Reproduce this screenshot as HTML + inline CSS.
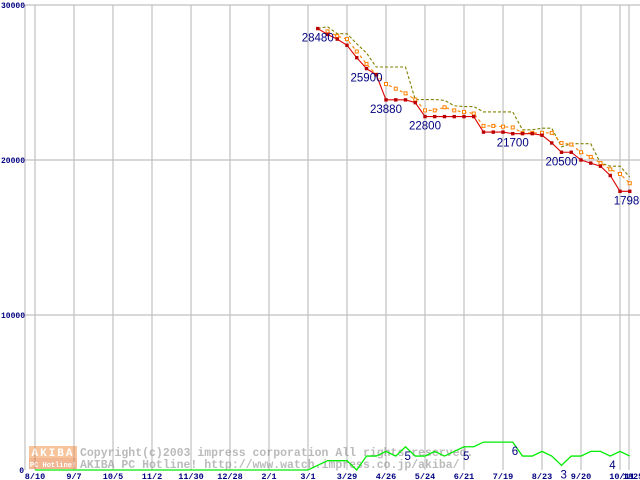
<!DOCTYPE html>
<html><head><meta charset="utf-8"><style>
html,body{margin:0;padding:0;background:#fff;}
svg{display:block;font-family:"Liberation Mono","DejaVu Sans Mono",monospace;}
</style></head><body>
<svg id="chart" width="640" height="480" viewBox="0 0 640 480" xmlns="http://www.w3.org/2000/svg">
<g id="grid"></g>
<g id="axes"></g>
<g id="watermark" opacity="0.5">
  <rect x="29" y="446" width="48" height="12" fill="#f08a3c"/>
  <rect x="29" y="458" width="48" height="11" fill="#e8702a"/>
  <text x="53" y="456" fill="#fff" font-size="11" font-weight="bold" text-anchor="middle" letter-spacing="2">AKIBA</text>
  <text x="53" y="467" fill="#fff" font-size="7" font-weight="bold" text-anchor="middle">PC Hotline!</text>
  <text x="80" y="456" fill="#777" font-size="11.5" font-weight="bold">Copyright(c)2003 impress corporation All rights reserved.</text>
  <text x="80" y="468" fill="#777" font-size="11.5" font-weight="bold">AKIBA PC Hotline!  http://www.watch.impress.co.jp/akiba/</text>
</g>
<g id="series"></g>
<g id="labels"></g>
</svg>
<script>
// weeks indexed from 8/10 (index 0); price data starts at index 29
const xTickLabels = ["8/10","9/7","10/5","11/2","11/30","12/28","2/1","3/1","3/29","4/26","5/24","6/21","7/19","8/23","9/20","10/11"];
const yTickValues = [0,10000,20000,30000];
const priceStart = 29;
const minPrice = [28480,28100,27800,27400,26600,25900,25500,23880,23880,23880,23700,22800,22800,22800,22800,22800,22800,21800,21800,21800,21700,21700,21700,21600,21100,20500,20500,20000,19800,19600,19000,17980,17980];
const avgPrice = [null,28300,28000,27800,27000,26200,25500,24900,24600,24300,23900,23200,23200,23400,23200,23100,23000,22200,22200,22150,22100,21750,21750,21750,21750,21100,21000,20500,20200,19800,19400,19100,18500];
const maxPrice = [28480,28600,28150,28150,27500,26900,26000,26000,26000,26000,23900,23900,23900,23850,23500,23450,23450,23100,23100,23100,23100,21950,21950,22050,22050,20850,21050,21050,21050,19800,19600,19600,18900];
const shopCount = [0,0,0,0,0,0,0,0,0,0,0,0,0,0,0,0,0,0,0,0,0,0,0,0,0,0,0,0,0,1,2,2,2,0,3,3,4,3,5,3,3,4,3,4,5,5,6,6,6,6,3,3,4,3,1,3,3,4,4,3,4,3];
const priceLabels = [[0,"28480"],[5,"25900"],[7,"23880"],[11,"22800"],[20,"21700"],[25,"20500"],[32,"17980"]];
const countLabels = [[38,"5"],[44,"5"],[49,"6"],[54,"3"],[59,"4"]];

const NS="http://www.w3.org/2000/svg";
const X0=35, STEP=9.75, YB=470, YT=5;
const xs=i=>X0+i*STEP;
const yp=v=>YB-(v/30000)*(YB-YT);
const yc=c=>YB-c*4.65;
function mk(tag,attrs,parent){const e=document.createElementNS(NS,tag);for(const k in attrs)e.setAttribute(k,attrs[k]);parent.appendChild(e);return e;}
const grid=document.getElementById('grid'),axes=document.getElementById('axes'),ser=document.getElementById('series'),lab=document.getElementById('labels');

xTickLabels.forEach((t,k)=>{
  const x=k<15?xs(k*4):620;
  const l=mk('line',{x1:x,y1:YT,x2:x,y2:YB,stroke:'#c0c0c0','stroke-width':1.2},grid);
  
  
});
const extra=mk('line',{x1:629,y1:YT,x2:629,y2:YB,stroke:'#c0c0c0','stroke-width':1.2},grid);


const ax=mk('line',{x1:25,y1:YT,x2:25,y2:YB,stroke:'#c0c0c0','stroke-width':1.2},grid);


yTickValues.forEach(v=>{
  if(v>0){const l=mk('line',{x1:25,y1:yp(v),x2:640,y2:yp(v),stroke:'#c0c0c0','stroke-width':1.2},grid);
  
  }
  const t=mk('text',{x:v==0?24:25,y:yp(v)+3,'text-anchor':'end',fill:'#000080','font-size':8,'font-weight':'bold'},axes);
  t.textContent=String(v);
  
  
});
xTickLabels.forEach((s,k)=>{
  const x=k<15?xs(k*4):622;
  const t=mk('text',{x:x,y:479,'text-anchor':'middle',fill:'#000080','font-size':8.5,'font-weight':'bold'},axes);
  t.textContent=s;
  
  
});
const t25=mk('text',{x:633,y:479,'text-anchor':'middle',fill:'#000080','font-size':8.5,'font-weight':'bold'},axes);
t25.textContent="1825";



function path(arr,fx,fy){let d='';arr.forEach((v,i)=>{if(v==null)return;d+=(d?'L':'M')+fx(i)+','+fy(v);});return d;}
const cp=mk('path',{d:path(shopCount,xs,yc),fill:'none',stroke:'#00ee00','stroke-width':1.3},ser);


const px=i=>xs(i+priceStart);
const mp=mk('path',{d:path(maxPrice,px,yp),fill:'none',stroke:'#808000','stroke-width':1.1,'stroke-dasharray':'3,2'},ser);


const ap=mk('path',{d:path(avgPrice,px,yp),fill:'none',stroke:'#ff8000','stroke-width':1.1,'stroke-dasharray':'3,3'},ser);


avgPrice.forEach((v,i)=>{if(v==null)return;
  const r=mk('rect',{x:px(i)-1.5,y:yp(v)-1.5,width:3,height:3,fill:'#fff',stroke:'#ff8000','stroke-width':1},ser);
  
  });
const lp=mk('path',{d:path(minPrice,px,yp),fill:'none',stroke:'#dd0000','stroke-width':1.1},ser);


minPrice.forEach((v,i)=>{
  const r=mk('rect',{x:px(i)-1.7,y:yp(v)-1.7,width:3.4,height:3.4,fill:'#bb0000'},ser);
  
  });
priceLabels.forEach(([i,s])=>{
  const t=mk('text',{x:px(i)-16,y:yp(minPrice[i])+13,fill:'#000080','font-family':'Liberation Sans, sans-serif','font-size':11.5},lab);
  t.textContent=s;
  
  });
countLabels.forEach(([i,s])=>{
  const t=mk('text',{x:xs(i)-1,y:yc(shopCount[i])+13,fill:'#000080','font-family':'Liberation Sans, sans-serif','font-size':11.5},lab);
  t.textContent=s;
  
  });
</script>
</body></html>
